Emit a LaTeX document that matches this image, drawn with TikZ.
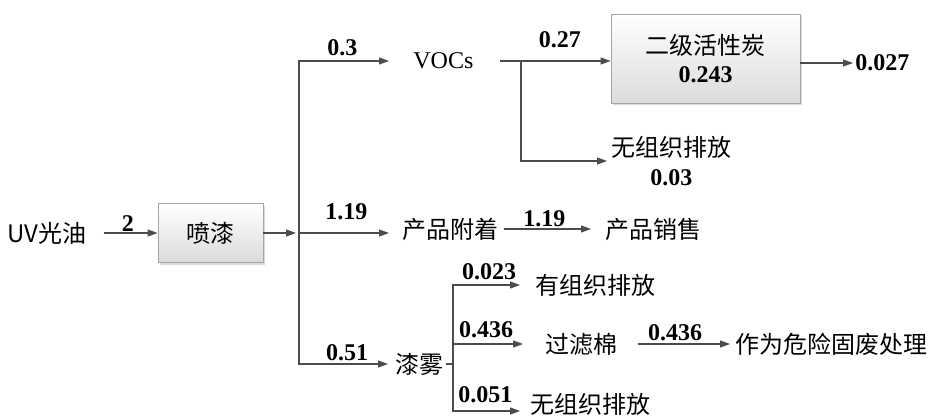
\documentclass[tikz,border=0pt]{standalone}
\usepackage{fontspec}
\setmainfont{Liberation Serif}
\newfontfamily\cjk{Noto Sans CJK SC}
\usetikzlibrary{arrows.meta,shadows}

\begin{document}
\begin{tikzpicture}[x=1pt, y=1pt, thick,
  font=\fontsize{24}{29}\selectfont,
  proc/.style = {draw=black!35, line width=0.8pt, top color=white, bottom color=black!14,
    drop shadow={shadow xshift=2pt, shadow yshift=-2pt, opacity=0.3}, align=center, inner sep=0pt},
  txt/.style = {inner sep=0pt, font=\fontsize{24}{29}\selectfont\cjk},
  lat/.style = {inner sep=0pt},
  num/.style = {inner sep=0pt, font=\fontsize{24}{29}\selectfont\bfseries},
  line/.style = {draw=black!70, line width=1.1pt},
  flow/.style = {line, -{Triangle[length=10pt, width=7pt]}}]

\useasboundingbox (0,0) rectangle (936,416);

% nodes
\node[txt] (uv) at (47,183) {UV光油};
\node[proc, minimum width=105pt, minimum height=59pt, font=\fontsize{24}{29}\selectfont\cjk] (pq) at (210.5,183) {喷漆};
\coordinate (j) at (299,183);
\node[lat, anchor=west] (voc) at (413,355) {VOCs};
\node[proc, minimum width=189pt, minimum height=89pt] (hxt) at (705.5,357.5) {{\cjk 二级活性炭}\\[-1pt]\textbf{0.243}};
\coordinate (s) at (521,355);
\node[lat, anchor=west, align=center] (wz1) at (611,255) {{\cjk 无组织排放}\\\textbf{0.03}};
\node[num, anchor=west] (o27) at (855,353) {0.027};
\node[txt, anchor=west] (cp) at (402,187) {产品附着};
\node[txt, anchor=west] (cs) at (605,187) {产品销售};
\node[txt, anchor=west] (qw) at (395,52) {漆雾};
\coordinate (k) at (453,52);
\node[txt, anchor=west] (yz) at (535,131) {有组织排放};
\node[txt, anchor=west] (glm) at (545,72) {过滤棉};
\node[txt, anchor=west] (wz2) at (530,12) {无组织排放};
\node[txt, anchor=west] (zw) at (735,72) {作为危险固废处理};

% main flow
\draw[flow, shorten <=17pt] (uv) -- node[num, above=1pt, pos=0.58] {2} (pq);
\draw[flow, shorten >=3pt] (pq) -- (j);
\draw[flow, shorten >=24pt] (j) |- node[num, above=5pt, pos=0.69] {0.3} (voc);
\draw[flow, shorten >=13pt] (j) -- node[num, above=13pt, pos=0.46] {1.19} (j -| cp.west);
\draw[flow, shorten >=7pt] (j) |- node[num, above=3pt, pos=0.75] {0.51} (qw);

% VOCs
\draw[flow, shorten <=26pt] (voc) -- node[num, above=13pt, pos=0.63] {0.27} (voc -| hxt.west);
\draw[flow, shorten >=4pt] (s) |- (wz1);
\draw[flow, shorten >=2pt] (hxt.east |- o27) -- (o27);

% product
\draw[flow, shorten <=5pt, shorten >=14pt] (cp) -- node[num, above=2pt, pos=0.43] {1.19} (cs);

% paint mist
\draw[line, shorten <=2pt] (qw) -- (k);
\draw[flow, shorten >=15pt] (k) |- node[num, above=5pt, pos=0.72] {0.023} (yz);
\draw[flow, shorten >=22pt] (k) |- node[num, above=6pt, pos=0.68] {0.436} (glm);
\draw[flow, shorten >=10pt] (k) |- node[num, above=8pt, pos=0.71] {0.051} ([yshift=-7pt]wz2.west);
\draw[flow, shorten <=20pt, shorten >=5pt] (glm) -- node[num, above=3pt, pos=0.49] {0.436} (zw);
\end{tikzpicture}
\end{document}
